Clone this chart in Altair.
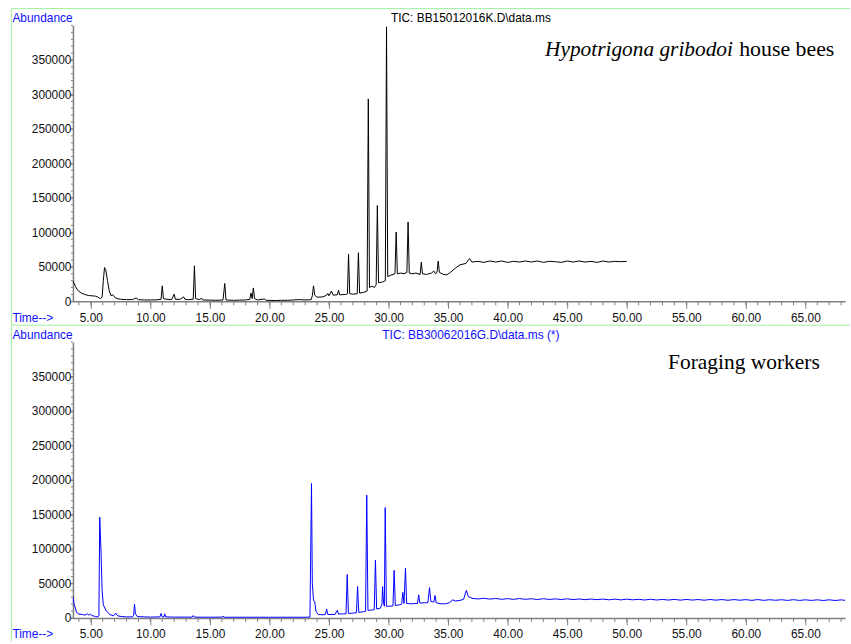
import altair as alt
import pandas as pd

# ---------------- data ----------------
house_t = [3.50, 3.70, 3.90, 4.20, 4.50, 4.80, 5.10, 5.40, 5.60, 5.80, 5.95, 6.05, 6.15, 6.25, 6.40,
           6.55, 6.70, 6.85, 7.00, 7.20, 7.50, 8.00, 8.50, 8.80, 9.00, 9.50, 10.00, 10.50, 10.90, 11.00,
           11.10, 11.40, 11.80, 12.00, 12.10, 12.50, 12.80, 12.90, 13.20, 13.60, 13.70, 13.80, 14.10,
           14.30, 14.40, 15.00, 15.50, 16.10, 16.25, 16.35, 17.00, 17.50, 18.00, 18.35, 18.45, 18.55,
           18.65, 18.75, 19.00, 19.60, 19.70, 20.50, 21.00, 21.50, 22.00, 22.50, 23.00, 23.50, 23.60,
           23.70, 23.80, 24.00, 24.50, 24.80, 24.90, 25.00, 25.20, 25.35, 25.70, 25.80, 25.90, 26.40,
           26.55, 26.64, 26.74, 27.00, 27.37, 27.47, 27.57, 27.90, 28.20, 28.30, 28.40, 28.60, 28.80,
           28.96, 29.06, 29.16, 29.50, 29.73, 29.83, 29.93, 30.20, 30.54, 30.64, 30.74, 31.00, 31.30,
           31.54, 31.64, 31.74, 32.00, 32.30, 32.65, 32.75, 32.85, 33.20, 33.60, 33.80, 33.95, 34.07,
           34.17, 34.27, 34.60, 34.90, 35.20, 35.60, 36.00, 36.50, 36.80, 37.00, 37.50, 38.00, 38.50,
           39.00, 39.50, 40.00, 40.50, 41.00, 41.50, 42.00, 42.50, 43.00, 43.50, 44.00, 44.50, 45.00,
           45.50, 46.00, 46.50, 47.00, 47.50, 48.00, 48.50, 49.00, 49.50, 50.00]
house_v = [30000, 22000, 16000, 12000, 10000, 8500, 8000, 7500, 6000, 4000, 6000, 30000, 49000, 46000, 30000,
           15000, 8000, 9500, 6000, 4000, 3000, 2500, 2500, 5000, 2500, 2000, 2000, 2200, 3000, 22500,
           4000, 3000, 2500, 10500, 3000, 3000, 6500, 3000, 2500, 3000, 51500, 4000, 2500,
           4500, 2000, 1800, 1500, 2000, 26000, 2000, 1500, 1800, 2000, 3000, 12000, 4000,
           19500, 4000, 2000, 3500, 1500, 1200, 1500, 1500, 2000, 2500, 2000, 2500, 8000,
           22500, 9000, 6000, 6500, 9000, 11500, 8000, 15000, 9000, 9500, 16000, 9500, 10000,
           11000, 68500, 11000, 10500, 11000, 70500, 12000, 13000, 15000, 293500, 20000, 22000, 20000,
           24000, 139000, 27000, 28000, 30000, 398000, 36000, 38000, 40000, 100500, 40000, 41000, 40000,
           42000, 115000, 41000, 40000, 41000, 39000, 57000, 40000, 39000, 41000, 44000, 40000, 42000,
           58500, 42000, 39000, 38500, 42000, 48000, 53000, 55000, 62000, 57000, 58000, 56500, 58500,
           57000, 58500, 56500, 58000, 57000, 58500, 57000, 58500, 56500, 58000, 57500, 56500, 58500,
           57000, 58500, 57000, 58000, 56500, 58500, 57000, 58000, 57500, 58000]

forag_t = [3.50, 3.60, 3.80, 4.00, 4.30, 4.50, 4.70, 4.85, 4.97, 5.10, 5.40, 5.60, 5.68, 5.75, 5.85,
           5.95, 6.05, 6.30, 6.60, 6.90, 7.10, 7.25, 7.60, 8.00, 8.50, 8.60, 8.67, 8.75, 8.90, 9.50,
           10.00, 10.80, 10.90, 11.00, 11.15, 11.20, 11.30, 12.00, 13.50, 13.60, 13.70, 15.00, 16.05,
           16.10, 16.20, 18.00, 20.00, 22.00, 23.00, 23.40, 23.53, 23.60, 23.70, 23.80, 23.90, 24.10,
           24.50, 24.70, 24.80, 24.90, 25.50, 25.70, 25.80, 26.20, 26.43, 26.53, 26.63, 27.00, 27.30,
           27.40, 27.50, 27.90, 28.07, 28.17, 28.27, 28.60, 28.80, 28.90, 29.00, 29.30, 29.45, 29.50,
           29.58, 29.65, 29.72, 29.82, 30.10, 30.37, 30.47, 30.57, 30.90, 31.10, 31.20, 31.30, 31.42,
           31.52, 31.90, 32.30, 32.43, 32.53, 32.63, 33.00, 33.30, 33.44, 33.55, 33.80, 33.90, 34.00,
           34.40, 34.80, 35.10, 35.40, 35.60, 36.00, 36.30, 36.53, 36.70, 37.00, 37.50, 38.00, 38.50,
           39.00, 39.50, 40.00, 40.50, 41.00, 41.50, 42.00, 42.50, 43.00, 43.50, 44.00, 44.50, 45.00,
           45.50, 46.00, 46.50, 47.00, 47.50, 48.00, 48.50, 49.00, 49.50, 50.00, 50.50, 51.00, 51.50,
           52.00, 52.50, 53.00, 53.50, 54.00, 54.50, 55.00, 55.50, 56.00, 56.50, 57.00, 57.50, 58.00,
           58.50, 59.00, 59.50, 60.00, 60.50, 61.00, 61.50, 62.00, 62.50, 63.00, 63.50, 64.00, 64.50,
           65.00, 65.50, 66.00, 66.50, 67.00, 67.50, 68.00, 68.33]
forag_v = [31000, 20000, 8000, 5500, 5000, 4000, 6000, 4000, 5500, 3500, 2000, 1500, 3000, 146000, 100000,
           40000, 19000, 10000, 5000, 3000, 7000, 3000, 2000, 1500, 1500, 4000, 20000, 6000, 2000, 1500,
           1200, 1500, 6500, 1500, 1500, 6000, 1500, 1200, 1200, 3500, 1200, 1000, 1200,
           2500, 1000, 1000, 1000, 1000, 1000, 1200, 195000, 50000, 25000, 24000, 10000, 5000,
           4500, 5000, 13000, 5000, 5000, 11000, 5500, 6000, 6000, 63000, 6500, 7000, 7500,
           45500, 8000, 9000, 9500, 178000, 11000, 11500, 12000, 84000, 13000, 14000, 20000, 45500,
           22000, 17000, 160000, 17000, 17000, 17500, 69000, 18000, 19000, 20000, 37000, 21000, 72000,
           21000, 20500, 21000, 21000, 33500, 21500, 22000, 22000, 44000, 24000, 23000, 32600, 22000,
           20500, 20500, 22000, 26300, 24500, 25500, 27000, 40000, 31000, 28500, 27500, 28500, 27300,
           28200, 27000, 28000, 26900, 28100, 27000, 27800, 26700, 27900, 26800, 27600, 26700, 27700,
           26600, 27500, 26500, 27400, 26500, 27300, 26300, 27300, 26200, 27200, 26300, 27000, 26000,
           27100, 26000, 26800, 25900, 26900, 25800, 26800, 25900, 26700, 25700, 26700, 25800, 26600,
           25600, 26600, 25700, 26500, 25500, 26600, 25500, 26400, 25600, 26400, 25400, 26500, 25400,
           26300, 25400, 26300, 25300, 26300, 25300, 26200, 25500]

x_major = [5, 10, 15, 20, 25, 30, 35, 40, 45, 50, 55, 60, 65]
x_minor = list(range(4, 69))
y_major = [0, 50000, 100000, 150000, 200000, 250000, 300000, 350000]
y_minor = list(range(0, 400001, 10000))

W, H = 778, 278
XDOM = [3.5, 68.33]
YDOM = [0, 400000]
GRAY = "#808080"
BLUE = "#1010ff"
GREEN = "#a0f0a0"
SANS = "Liberation Sans"
SERIF = "Liberation Serif"


def one(text):
    return pd.DataFrame({"s": [text]})


def label(text, x, y, color="black", font=SANS, size=12, align="left",
          baseline="middle", style="normal"):
    return alt.Chart(one(text)).mark_text(
        font=font, fontSize=size, color=color, align=align, baseline=baseline,
        fontStyle=style
    ).encode(x=alt.value(x), y=alt.value(y), text="s:N")


def panel(t, v, color, title, title_color, annotations):
    xs = alt.Scale(domain=XDOM, nice=False, zero=False)
    ys = alt.Scale(domain=YDOM, nice=False, zero=False)
    x_axis = alt.Axis(
        values=x_major, format=".2f", title=None, ticks=True, tickSize=7, tickColor=GRAY,
        domainColor=GRAY, domainWidth=1.5, labelFont=SANS, labelFontSize=12,
        labelColor="#111111", grid=False, labelPadding=4, labelBaseline="top",
        labelFlush=False)
    y_axis = alt.Axis(
        values=y_major, format="d", title=None, tickSize=3, tickColor=GRAY,
        domainColor=GRAY, domainWidth=1.5, labelFont=SANS, labelFontSize=12,
        labelColor="#111111", grid=False, labelPadding=-1)
    df = pd.DataFrame({"t": t, "v": v})
    line = alt.Chart(df).mark_line(color=color, strokeWidth=1, clip=True).encode(
        x=alt.X("t:Q", scale=xs, axis=x_axis),
        y=alt.Y("v:Q", scale=ys, axis=y_axis),
    )
    xmin = alt.Chart(pd.DataFrame({"t": x_minor})).mark_rule(color=GRAY, strokeWidth=1).encode(
        x=alt.X("t:Q", scale=xs, axis=x_axis), y=alt.value(H), y2=alt.value(H + 4))
    ymin = alt.Chart(pd.DataFrame({"v": y_minor})).mark_rule(color=GRAY, strokeWidth=1).encode(
        y=alt.Y("v:Q", scale=ys, axis=y_axis), x=alt.value(0), x2=alt.value(-2))
    border_h = alt.Chart(one("b")).mark_rule(color=GREEN, strokeWidth=1).encode(
        x=alt.value(-62), x2=alt.value(W + 5), y=alt.value(-17))
    border_v = alt.Chart(one("b")).mark_rule(color=GREEN, strokeWidth=1).encode(
        x=alt.value(-62), y=alt.value(-17), y2=alt.value(H + 24))
    texts = [
        label("Abundance", -61, -7.5, color=BLUE),
        label("Time-->", -61, H + 16.5, color=BLUE),
        label(title, 401, -7.2, color=title_color, align="center"),
    ]
    for (txt, x, y, style, align, size) in annotations:
        texts.append(label(txt, x, y, font=SERIF, size=size, baseline="alphabetic",
                           style=style, align=align))
    return alt.layer(line, xmin, ymin, border_h, border_v, *texts).properties(width=W, height=H)


top = panel(house_t, house_v, "black", "TIC: BB15012016K.D\\data.ms", "black",
            [("Hypotrigona gribodoi", 665, 30.6, "italic", "right", 21.5),
             ("house bees", 671.3, 30.6, "normal", "left", 22)])
bottom = panel(forag_t, forag_v, "#0000ff", "TIC: BB30062016G.D\\data.ms (*)", BLUE,
               [("Foraging workers", 599.7, 27.3, "normal", "left", 21.6)])

chart = alt.vconcat(top, bottom, spacing=41, bounds="flush").properties(
    padding={"left": 10.5, "top": 5.2, "right": 0, "bottom": 0},
    background="white",
).configure_view(strokeWidth=0)

chart.save("out.html", embed_options={"renderer": "svg", "actions": False})
